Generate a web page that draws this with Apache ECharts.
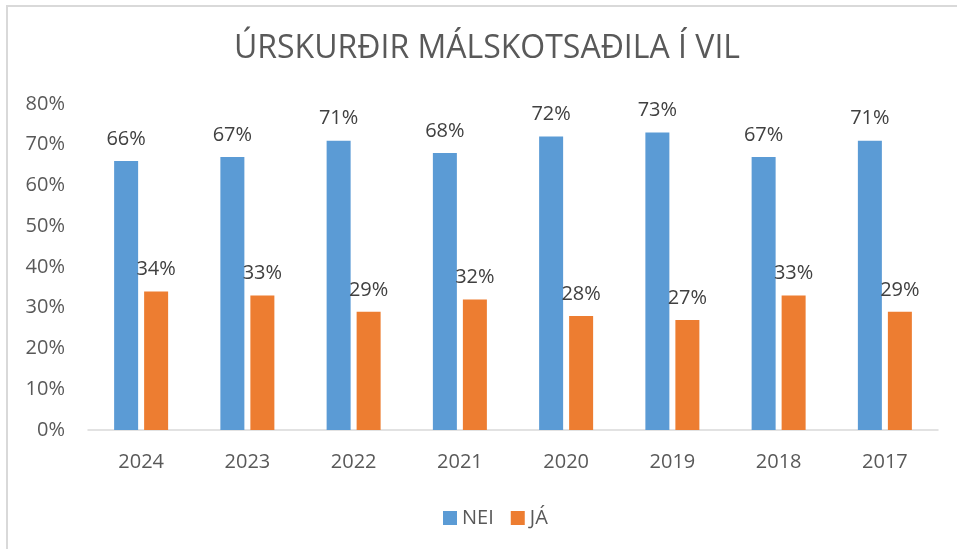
<!DOCTYPE html>
<html>
<head>
<meta charset="utf-8">
<script src="https://cdn.jsdelivr.net/npm/echarts@6/dist/echarts.min.js"></script>
<style>
  html, body { margin: 0; padding: 0; background: #fff; }
  #chart { width: 957px; height: 549px; }
</style>
</head>
<body>
<div id="chart"></div>
<script>
const years = ["2024", "2023", "2022", "2021", "2020", "2019", "2018", "2017"];
const nei = [66, 67, 71, 68, 72, 73, 67, 71];
const ja = [34, 33, 29, 32, 28, 27, 33, 29];
const yTicks = [0, 10, 20, 30, 40, 50, 60, 70, 80];

const FONT = "Open Sans";
const TEXT = "#595959";
const BLUE = "#5B9BD5";
const ORANGE = "#ED7D31";

const chart = echarts.init(document.getElementById("chart"));

const barLabel = {
	show: true,
	position: "top",
	distance: 12,
	color: "#404040",
	fontSize: 20,
	fontFamily: FONT,
	formatter: (p) => p.value + "%",
};

chart.setOption({
	animation: false,
	textStyle: { fontFamily: FONT },
	title: {
		text: "ÚRSKURÐIR MÁLSKOTSAÐILA Í VIL",
		left: 487,
		textAlign: "center",
		top: 33,
		padding: 0,
		textStyle: { color: TEXT, fontSize: 32, fontWeight: "normal", fontFamily: FONT },
	},
	graphic: [
		{ type: "line", shape: { x1: 6, y1: 6, x2: 957, y2: 6 }, style: { stroke: "#D9D9D9", lineWidth: 2 } },
		{ type: "line", shape: { x1: 7, y1: 5, x2: 7, y2: 549 }, style: { stroke: "#D9D9D9", lineWidth: 2 } },
	],
	legend: {
		left: 438,
		top: 503,
		itemWidth: 14,
		itemHeight: 14,
		itemGap: 17,
		icon: "rect",
		textStyle: { color: TEXT, fontSize: 20, fontFamily: FONT },
		data: ["NEI", "JÁ"],
	},
	grid: { left: 88, right: 19, top: 104, bottom: 119 },
	xAxis: {
		type: "category",
		data: years,
		axisLine: { lineStyle: { color: "#D9D9D9", width: 1.5 } },
		axisTick: { show: false },
		axisLabel: { color: TEXT, fontSize: 20, margin: 22, fontFamily: FONT },
	},
	yAxis: {
		type: "value",
		min: yTicks[0],
		max: yTicks[yTicks.length - 1],
		interval: 10,
		axisLine: { show: false },
		axisTick: { show: false },
		splitLine: { show: false },
		axisLabel: {
			color: TEXT,
			fontSize: 20,
			margin: 23,
			fontFamily: FONT,
			formatter: (v) => v + "%",
		},
	},
	series: [
		{
			name: "NEI",
			type: "bar",
			data: nei,
			barWidth: 24,
			barGap: "25%",
			itemStyle: { color: BLUE },
			label: barLabel,
		},
		{
			name: "JÁ",
			type: "bar",
			data: ja,
			barWidth: 24,
			itemStyle: { color: ORANGE },
			label: barLabel,
		},
	],
});
</script>
</body>
</html>
